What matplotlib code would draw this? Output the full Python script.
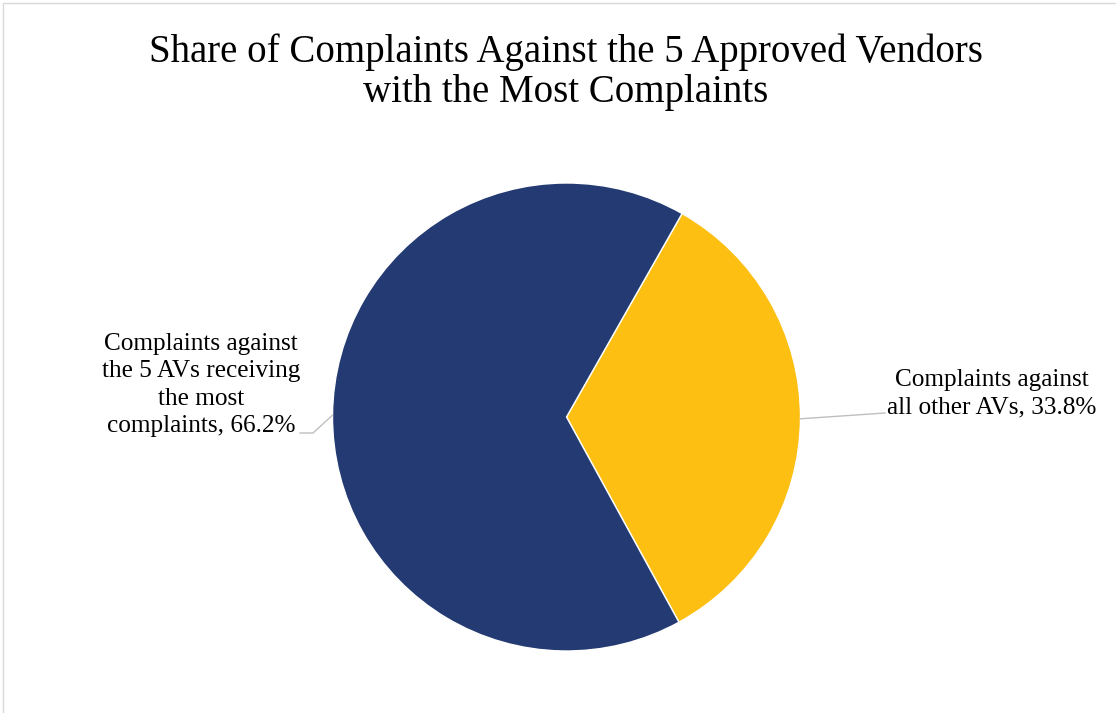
import numpy as np
import matplotlib
matplotlib.use("Agg")
import matplotlib.pyplot as plt
from matplotlib.patches import Rectangle

title = "Share of Complaints Against the 5 Approved Vendors\nwith the Most Complaints"
labels = ["Complaints against\nall other AVs", "Complaints against\nthe 5 AVs receiving\nthe most\ncomplaints"]
shares = [33.8, 66.2]
colors = ["#FCBF12", "#243A72"]

plt.rcParams['font.family'] = ['Liberation Serif', 'DejaVu Serif']

fig = plt.figure(figsize=(11.16, 7.13), dpi=100)
W, H = 1116, 713

# light frame
fig.patches.append(Rectangle((3 / W, -0.01), 1.02, 1 - 3 / H + 0.01, transform=fig.transFigure,
                             fill=False, edgecolor="#D9D9D9", linewidth=1))

fig.text(566 / W, 1 - 72 / H, title, ha="center", va="center", fontsize=28,
         linespacing=1.12, color="black")

ax = fig.add_axes([332.5 / W, (H - 651) / H, 468 / W, 468 / H])
start = 60.4
wedges, _ = ax.pie(shares, colors=colors, startangle=start, counterclock=False,
                   wedgeprops=dict(edgecolor="white", linewidth=1))
ax.set_xlim(-1, 1)
ax.set_ylim(-1, 1)
ax.set_aspect("auto")
ax.axis("off")

# labels with leader lines
txt_pos = [(992, 394), (201, 385)]
line_end = [(885, 413), (300, 433)]
for w, lab, val, tp, le in zip(wedges, labels, shares, txt_pos, line_end):
    mid = np.deg2rad((w.theta1 + w.theta2) / 2)
    x0, y0 = np.cos(mid), np.sin(mid)
    ex = (le[0] - 566.5) / 234
    ey = (417 - le[1]) / 234
    if x0 < 0:
        ax.plot([x0, ex + 13 / 234, ex], [y0, ey, ey], color="#BFBFBF", lw=1, clip_on=False)
    else:
        ax.plot([x0, ex], [y0, ey], color="#BFBFBF", lw=1, clip_on=False)
    fig.text(tp[0] / W, 1 - tp[1] / H, f"{lab}, {val}%", ha="center", va="center",
             fontsize=18.2, linespacing=1.33, color="black")

fig.savefig("out.png", dpi=100)
